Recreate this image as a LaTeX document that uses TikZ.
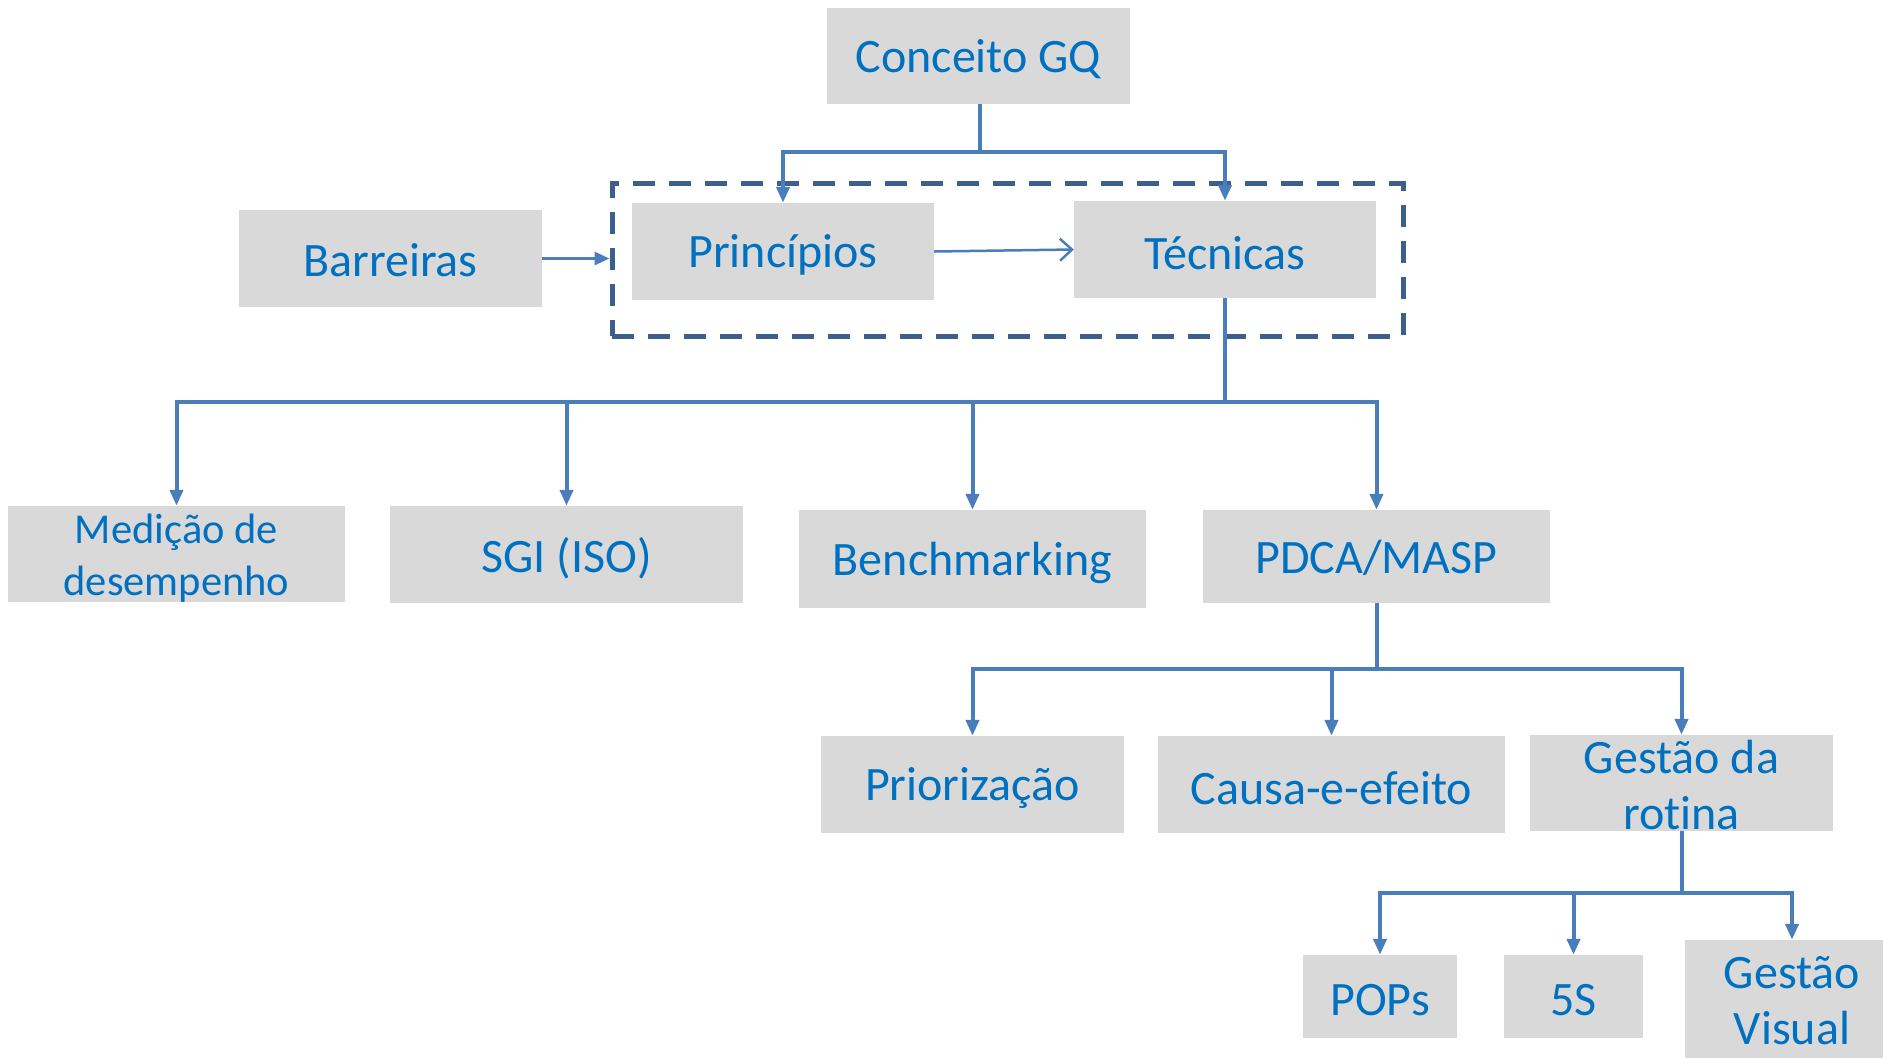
\documentclass[tikz,border=0pt]{standalone}
\usepackage{fontspec}
\setmainfont{Carlito}[Ligatures=NoCommon]
\usetikzlibrary{arrows.meta}
\definecolor{boxgray}{HTML}{D9D9D9}
\definecolor{txtblue}{HTML}{0070C0}
\definecolor{linkblue}{HTML}{4A7EBB}
\definecolor{frameblue}{HTML}{3C5F8E}

\begin{document}
\begin{tikzpicture}[x=1pt,y=-1pt,
  box/.style={fill=boxgray, inner sep=0pt},
  textbase/.style={text=txtblue, inner sep=0pt, align=center,
    font=\fontsize{48}{56}\selectfont},
  boxtext/.style={textbase, yshift=-3.5pt},
  twolines/.style={textbase, yshift=-2.5pt},
  smalltext/.style={textbase, yshift=-4.5pt, font=\fontsize{42.5}{52}\selectfont},
  link/.style={draw=linkblue, line width=4pt,
    -{Triangle[length=16pt,width=13pt]}},
  thinlink/.style={draw=linkblue, line width=3pt,
    -{Triangle[length=15pt,width=13pt]}},
  openlink/.style={draw=linkblue, line width=2.5pt,
    -{Straight Barb[length=12pt,width=22pt,line width=2.5pt]}},
  group/.style={draw=frameblue, line width=5pt, dash pattern=on 22pt off 14pt,
    inner sep=0pt}]
\useasboundingbox (0,0) rectangle (1883,1058);

% dashed group around the two core blocks
\node[group, minimum width=791pt, minimum height=153pt] (grp) at (1007.5,259.5) {};

% top level
\node[box, minimum width=303pt, minimum height=96pt,
  label={[boxtext]center:Conceito GQ}] (gq) at (978.5,56) {};
\node[box, minimum width=303pt, minimum height=97pt,
  label={[boxtext, yshift=1.5pt]center:Barreiras}] (barreiras) at (390.5,258.5) {};
\node[box, minimum width=302pt, minimum height=97pt,
  label={[boxtext]center:Princípios}] (principios) at (783,251.5) {};
\node[box, minimum width=302pt, minimum height=97pt,
  label={[boxtext]center:Técnicas}] (tecnicas) at (1225,249.5) {};

% techniques
\node[box, minimum width=337pt, minimum height=96pt,
  label={[smalltext]center:{Medição de\\desempenho}}] (medicao) at (176.5,554) {};
\node[box, minimum width=353pt, minimum height=97pt,
  label={[boxtext]center:SGI (ISO)}] (sgi) at (566.5,554.5) {};
\node[box, minimum width=347pt, minimum height=98pt,
  label={[boxtext]center:Benchmarking}] (bench) at (972.5,559) {};
\node[box, minimum width=347pt, minimum height=93pt,
  label={[boxtext, yshift=2pt]center:PDCA/MASP}] (pdca) at (1376.5,556.5) {};

% PDCA/MASP tools
\node[box, minimum width=303pt, minimum height=97pt,
  label={[boxtext]center:Priorização}] (prior) at (972.5,784.5) {};
\node[box, minimum width=347pt, minimum height=97pt,
  label={[boxtext]center:Causa-e-efeito}] (causa) at (1331.5,784.5) {};
\node[box, minimum width=303pt, minimum height=96pt,
  label={[twolines]center:{Gestão da\\rotina}}] (rotina) at (1681.5,783) {};

% routine management tools
\node[box, minimum width=154pt, minimum height=83pt,
  label={[boxtext]center:POPs}] (pops) at (1380,996.5) {};
\node[box, minimum width=139pt, minimum height=83pt,
  label={[boxtext]center:5S}] (cinco) at (1573.5,996.5) {};
\node[box, minimum width=214pt, minimum height=122pt,
  label={[textbase]center:{Gestão\\Visual}}] (visual) at (1792,1001) {};

% connectors
\draw[link] (gq.south) ++(1.5,0) -- ++(0,48) -| (principios.north);
\draw[link] (gq.south) ++(1.5,0) -- ++(0,48) -| (tecnicas.north);

\draw[thinlink] (barreiras.east) -- (barreiras.east -| grp.west);
\draw[openlink] (principios.east) -- (tecnicas.west);

\foreach \c in {medicao,sgi,bench,pdca}
  \draw[link] (tecnicas.south) -- ++(0,104) -| (\c.north);

\foreach \c in {prior,causa,rotina}
  \draw[link] (pdca.south) -- ++(0,66) -| (\c.north);

\foreach \c in {pops,cinco,visual}
  \draw[link] (rotina.south) -- ++(0,62) -| (\c.north);
\end{tikzpicture}
\end{document}
